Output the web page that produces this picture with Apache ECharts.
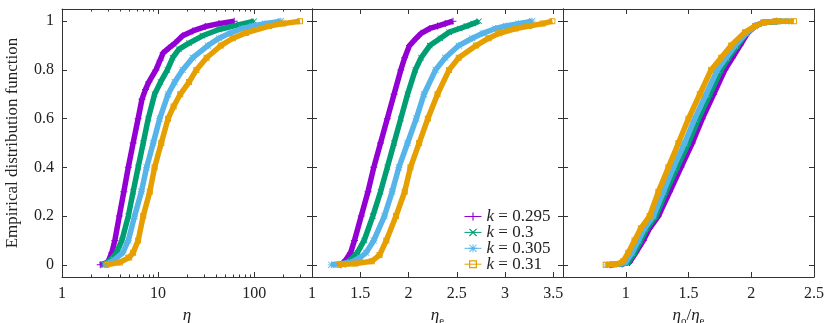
<!DOCTYPE html>
<html><head><meta charset="utf-8">
<script src="https://cdn.jsdelivr.net/npm/echarts@6/dist/echarts.min.js"></script>
<style>html,body{margin:0;padding:0;background:#fff}#c{width:831px;height:323px}</style>
</head><body><div id="c"></div>
<script>
// ---------- data ----------
const seriesNames = ['k = 0.295', 'k = 0.3', 'k = 0.305', 'k = 0.31'];
const colors = ['#9400d3', '#009e73', '#56b4e9', '#e69f00'];

const yTicks = [0, 0.2, 0.4, 0.6, 0.8, 1];
const etaLabels = [1, 10, 100];
const etaMinorTicks = [2, 3, 4, 5, 6, 7, 8, 9, 20, 30, 40, 50, 60, 70, 80, 90, 200, 300, 400];
const etaELabels = [1, 1.5, 2, 2.5, 3, 3.5];
const ratioTicks = [0.5, 1, 1.5, 2, 2.5];
const ratioLabels = [1, 1.5, 2, 2.5];

// panel 1: eta
const eta_k0295 = [[2.5,0],[3.0,0.01],[3.3,0.05],[3.55,0.1],[3.95,0.2],[4.4,0.3],[4.9,0.4],[5.5,0.5],[6.2,0.6],[6.8,0.68],[7.4,0.72],[8.0,0.75],[9.5,0.8],[10.5,0.84],[11.3,0.87],[13,0.89],[15,0.91],[18,0.94],[23,0.96],[31,0.978],[43,0.99],[62,1.0]];
const eta_k0300 = [[2.7,0],[3.2,0.02],[3.7,0.05],[4.2,0.1],[4.9,0.2],[5.5,0.3],[6.2,0.4],[7.0,0.5],[7.9,0.6],[9.2,0.7],[10.6,0.75],[12.5,0.8],[14.2,0.85],[16.5,0.885],[21,0.91],[29,0.94],[43,0.966],[70,0.986],[100,1.0]];
const eta_k0305 = [[2.8,0],[3.5,0.02],[4.3,0.05],[4.9,0.1],[5.7,0.2],[6.7,0.3],[7.6,0.4],[8.9,0.5],[10.4,0.6],[12.7,0.7],[14.9,0.75],[18,0.8],[23,0.85],[33,0.9],[43,0.93],[55,0.95],[75,0.97],[96,0.98],[130,0.99],[190,1.0]];
const eta_k0310 = [[2.9,0],[4.0,0.01],[5.0,0.03],[5.5,0.05],[6.2,0.1],[7.0,0.2],[8.2,0.3],[9.2,0.4],[10.8,0.5],[12.7,0.6],[14.5,0.65],[17,0.7],[21,0.75],[25,0.8],[32,0.85],[45,0.9],[60,0.93],[82,0.952],[143,0.98],[200,0.99],[300,1.0]];

// panel 2: eta_e
const etaE_k0295 = [[1.30,0],[1.35,0.02],[1.40,0.05],[1.44,0.1],[1.51,0.2],[1.58,0.3],[1.64,0.4],[1.71,0.5],[1.78,0.6],[1.85,0.7],[1.92,0.8],[1.96,0.85],[2.01,0.9],[2.08,0.93],[2.13,0.95],[2.22,0.97],[2.30,0.98],[2.38,0.99],[2.46,1.0]];
const etaE_k0300 = [[1.32,0],[1.40,0.02],[1.47,0.05],[1.54,0.1],[1.63,0.2],[1.71,0.3],[1.78,0.4],[1.85,0.5],[1.92,0.6],[1.99,0.7],[2.07,0.8],[2.13,0.85],[2.22,0.9],[2.33,0.93],[2.42,0.955],[2.53,0.97],[2.60,0.98],[2.67,0.99],[2.73,1.0]];
const etaE_k0305 = [[1.20,0],[1.40,0.01],[1.50,0.03],[1.56,0.05],[1.64,0.1],[1.75,0.2],[1.83,0.3],[1.90,0.4],[1.99,0.5],[2.08,0.6],[2.16,0.7],[2.28,0.8],[2.38,0.85],[2.52,0.9],[2.66,0.93],[2.77,0.95],[2.90,0.97],[3.01,0.98],[3.14,0.99],[3.28,1.0]];
const etaE_k0310 = [[1.27,0],[1.45,0.005],[1.62,0.015],[1.70,0.04],[1.77,0.1],[1.87,0.2],[1.96,0.3],[2.02,0.4],[2.11,0.5],[2.20,0.6],[2.30,0.7],[2.42,0.8],[2.52,0.85],[2.70,0.9],[2.83,0.93],[2.94,0.95],[3.11,0.97],[3.25,0.98],[3.39,0.99],[3.49,1.0]];

// panel 3: eta_o / eta_e
const ratio_k0295 = [[0.88,0],[0.97,0.003],[1.03,0.01],[1.08,0.05],[1.14,0.1],[1.19,0.15],[1.26,0.2],[1.35,0.3],[1.44,0.4],[1.53,0.5],[1.61,0.6],[1.70,0.7],[1.79,0.8],[1.85,0.85],[1.91,0.9],[1.97,0.95],[2.03,0.98],[2.10,0.995],[2.20,1.0]];
const ratio_k0300 = [[0.87,0],[0.96,0.003],[1.02,0.01],[1.07,0.05],[1.12,0.1],[1.17,0.15],[1.24,0.2],[1.32,0.3],[1.41,0.4],[1.50,0.5],[1.58,0.6],[1.67,0.7],[1.76,0.8],[1.82,0.85],[1.89,0.9],[1.96,0.95],[2.03,0.98],[2.10,0.995],[2.25,1.0]];
const ratio_k0305 = [[0.85,0],[0.95,0.003],[1.00,0.01],[1.05,0.05],[1.10,0.1],[1.15,0.15],[1.22,0.2],[1.30,0.3],[1.38,0.4],[1.47,0.5],[1.55,0.6],[1.64,0.7],[1.73,0.8],[1.80,0.85],[1.87,0.9],[1.96,0.95],[2.03,0.98],[2.10,0.995],[2.20,1.0],[2.30,1.0]];
const ratio_k0310 = [[0.84,0],[0.93,0.003],[0.98,0.015],[1.02,0.05],[1.07,0.1],[1.12,0.15],[1.19,0.2],[1.26,0.3],[1.34,0.4],[1.42,0.5],[1.50,0.6],[1.59,0.7],[1.68,0.8],[1.76,0.85],[1.84,0.9],[1.95,0.955],[2.03,0.98],[2.10,0.995],[2.20,1.0],[2.34,1.0]];

const panelData = [
  [eta_k0295, eta_k0300, eta_k0305, eta_k0310],
  [etaE_k0295, etaE_k0300, etaE_k0305, etaE_k0310],
  [ratio_k0295, ratio_k0300, ratio_k0305, ratio_k0310]
];

// ---------- styling ----------
const FONT = 'Liberation Serif';
const AXC = '#333';
const symbols = [
  'path://M4.3,0H5.7V4.3H10V5.7H5.7V10H4.3V5.7H0V4.3H4.3Z',
  'path://M1,0L5,4L9,0L10,1L6,5L10,9L9,10L5,6L1,10L0,9L4,5L0,1Z',
  'path://M4.4,0H5.6V4.4H10V5.6H5.6V10H4.4V5.6H0V4.4H4.4Z M1,0.2L5,4.2L9,0.2L9.8,1L5.8,5L9.8,9L9,9.8L5,5.8L1,9.8L0.2,9L4.2,5L0.2,1Z',
  'path://M0,0H10V10H0Z M1.6,1.6V8.4H8.4V1.6Z'
];
const symSizes = [7, 6, 7, 6];

const grids = [
  {left: 62, top: 9, width: 250, height: 268, outerBoundsMode: 'none', containLabel: false},
  {left: 312, top: 9, width: 251, height: 268, outerBoundsMode: 'none', containLabel: false},
  {left: 563, top: 9, width: 251, height: 268, outerBoundsMode: 'none', containLabel: false}
];

const richName = {
  i: {fontFamily: FONT, fontStyle: 'italic', fontSize: 17, lineHeight: 22, color: '#222'},
  s: {fontFamily: FONT, fontSize: 11, lineHeight: 13, verticalAlign: 'bottom', color: '#222'},
  n: {fontFamily: FONT, fontSize: 17, lineHeight: 22, color: '#222'}
};

const xAxes = [], yAxes = [];
function xAx(g, pos, type, min, max, tickVals, labelVals, name, len, showLine) {
  const a = {
    gridIndex: g, type: type, position: pos, min: min, max: max,
    axisLine: {show: showLine !== false, onZero: false, lineStyle: {color: AXC, width: 1}},
    axisTick: {show: true, inside: true, length: len || 5, customValues: tickVals, lineStyle: {color: AXC, width: 1}},
    axisLabel: labelVals ? {show: true, customValues: labelVals, fontFamily: FONT, fontSize: 16, color: '#222', margin: 9,
      formatter: v => String(+v.toFixed(4))} : {show: false},
    splitLine: {show: false}
  };
  if (type === 'log') a.logBase = 10;
  if (name) {
    a.name = name; a.nameLocation = 'middle'; a.nameGap = 24;
    a.nameTextStyle = {rich: richName};
  }
  xAxes.push(a);
  return xAxes.length - 1;
}
function yAx(g, pos, showLabels, name) {
  const a = {
    gridIndex: g, type: 'value', position: pos, min: -0.05, max: 1.05,
    axisLine: {show: true, lineStyle: {color: AXC, width: 1}},
    axisTick: {show: true, inside: true, length: 5, customValues: yTicks, lineStyle: {color: AXC, width: 1}},
    axisLabel: showLabels ? {show: true, customValues: yTicks, fontFamily: FONT, fontSize: 16, color: '#222', margin: 8,
      formatter: v => String(+v.toFixed(4))} : {show: false},
    splitLine: {show: false}
  };
  if (name) {
    a.name = name; a.nameLocation = 'middle'; a.nameGap = 41;
    a.nameTextStyle = {fontFamily: FONT, fontSize: 17, color: '#222'};
  }
  yAxes.push(a);
  return yAxes.length - 1;
}

const xb = [], yl = [];
// panel 1
xb.push(xAx(0, 'bottom', 'log', 1, 400, etaLabels, etaLabels, '{i|η}'));
xAx(0, 'top', 'log', 1, 400, etaLabels, null);
xAx(0, 'bottom', 'log', 1, 400, etaMinorTicks, null, null, 2.5, false);
xAx(0, 'top', 'log', 1, 400, etaMinorTicks, null, null, 2.5, false);
yl.push(yAx(0, 'left', true, 'Empirical distribution function'));
yAx(0, 'right', false);
// panel 2
xb.push(xAx(1, 'bottom', 'value', 1, 3.6, etaELabels, etaELabels, '{i|η}{s|e}'));
xAx(1, 'top', 'value', 1, 3.6, etaELabels, null);
yl.push(yAx(1, 'left', false));
yAx(1, 'right', false);
// panel 3
xb.push(xAx(2, 'bottom', 'value', 0.5, 2.5, ratioTicks, ratioLabels, '{i|η}{s|o}{n|/}{i|η}{s|e}'));
xAx(2, 'top', 'value', 0.5, 2.5, ratioTicks, null);
yl.push(yAx(2, 'left', false));
yAx(2, 'right', false);

const series = [];
for (let p = 0; p < 3; p++) {
  for (let k = 0; k < 4; k++) {
    series.push({
      type: 'line', name: seriesNames[k], data: panelData[p][k],
      xAxisIndex: xb[p], yAxisIndex: yl[p],
      symbol: symbols[k], symbolSize: symSizes[k], showSymbol: true,
      lineStyle: {width: 5.5, color: colors[k]},
      itemStyle: {color: colors[k]},
      z: 2 + k, animation: false
    });
  }
}

const chart = echarts.init(document.getElementById('c'), null, {renderer: 'canvas'});
chart.setOption({
  backgroundColor: '#fff',
  animation: false,
  grid: grids,
  xAxis: xAxes,
  yAxis: yAxes,
  legend: {
    data: seriesNames, orient: 'vertical', left: 459, top: 203,
    itemWidth: 17, itemHeight: 10, itemGap: -1.1,
    lineStyle: {width: 1},
    formatter: n => '{i|k} = ' + n.split('= ')[1],
    textStyle: {fontFamily: FONT, fontSize: 17, lineHeight: 14, color: '#222',
      rich: {i: {fontFamily: FONT, fontStyle: 'italic', fontSize: 17, lineHeight: 14, color: '#222'}}},
    selectedMode: false
  },
  series: series
});
</script></body></html>
